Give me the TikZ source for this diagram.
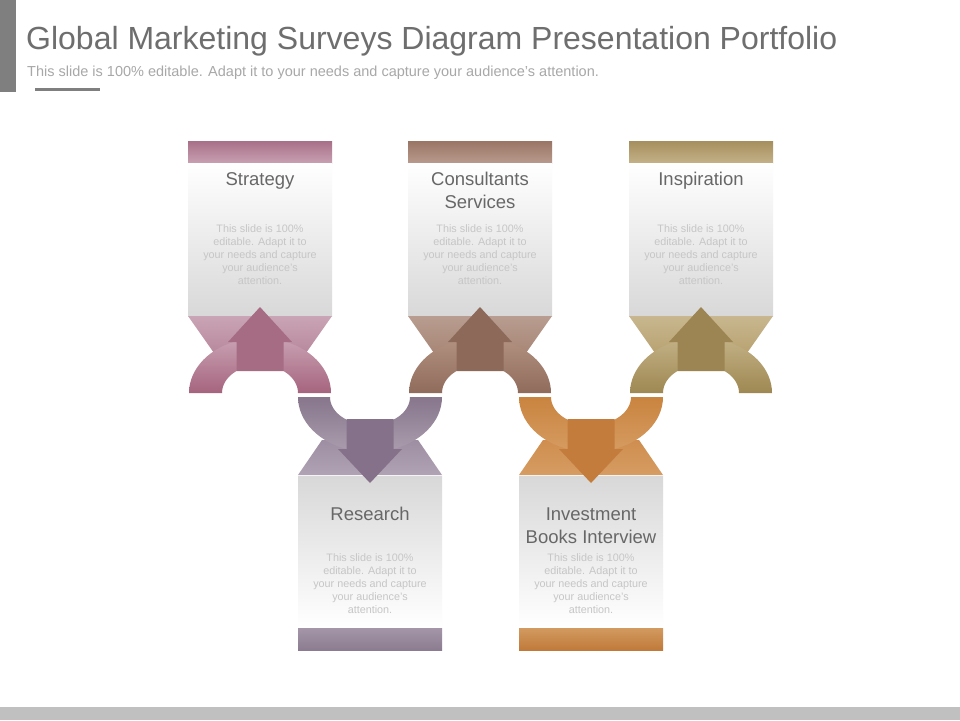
\documentclass[tikz,border=0pt]{standalone}
\usepackage{fontspec}
\setmainfont{Liberation Sans}
\definecolor{panelgrey}{HTML}{D8D8D8}
\definecolor{titlegrey}{HTML}{6E6E6E}
\definecolor{subgrey}{HTML}{A8A8A8}
\definecolor{ptgrey}{HTML}{676767}
\definecolor{bodygrey}{HTML}{C6C6C6}
\definecolor{bargrey}{HTML}{7F7F7F}
\definecolor{bandgrey}{HTML}{C0C0C0}
% Strategy
\definecolor{stA}{HTML}{A87088}\definecolor{stB}{HTML}{C8A0B2}
\definecolor{stT1}{HTML}{C9A5B5}\definecolor{stT2}{HTML}{B8889C}
\definecolor{stR}{HTML}{A66C84}
\definecolor{stC1}{HTML}{C9A2B3}\definecolor{stC2}{HTML}{A5647D}
% Consultants
\definecolor{coA}{HTML}{9A7566}\definecolor{coB}{HTML}{B89A8C}
\definecolor{coT1}{HTML}{B89D90}\definecolor{coT2}{HTML}{A88676}
\definecolor{coR}{HTML}{8C6959}
\definecolor{coC1}{HTML}{B39282}\definecolor{coC2}{HTML}{8F6B5B}
% Inspiration
\definecolor{inA}{HTML}{A68F5E}\definecolor{inB}{HTML}{C4B188}
\definecolor{inT1}{HTML}{C8B78F}\definecolor{inT2}{HTML}{B8A271}
\definecolor{inR}{HTML}{9C8552}
\definecolor{inC1}{HTML}{C3B186}\definecolor{inC2}{HTML}{9E8852}
% Research
\definecolor{reA}{HTML}{A496A8}\definecolor{reB}{HTML}{8C7C91}
\definecolor{reT1}{HTML}{9E8EA3}\definecolor{reT2}{HTML}{B0A3B4}
\definecolor{reR}{HTML}{85728A}
\definecolor{reC1}{HTML}{87768C}\definecolor{reC2}{HTML}{AB9DAE}
% Investment
\definecolor{ivA}{HTML}{D29A60}\definecolor{ivB}{HTML}{C07A3A}
\definecolor{ivT1}{HTML}{CF8E4F}\definecolor{ivT2}{HTML}{D69C62}
\definecolor{ivR}{HTML}{C47C3C}
\definecolor{ivC1}{HTML}{C9843F}\definecolor{ivC2}{HTML}{D69C62}

\tikzset{
  ptitle/.style={align=center, text=ptgrey, inner sep=0pt, font=\fontsize{18.5}{23}\selectfont},
  pbody/.style={align=center, text=bodygrey, inner sep=0pt, font=\fontsize{10.8}{13}\selectfont},
}

\newcommand\upmod[5]{%
  \shade[top color=#3A, bottom color=#3B] ({#2-72},141) rectangle ({#2+72},163);
  \shade[top color=white, bottom color=panelgrey] ({#2-72},163) rectangle ({#2+72},316);
  \shade[top color=#3T1, bottom color=#3T2] ({#2-72},316) -- ({#2+72},316) -- ({#2+46},353) -- ({#2-46},353) -- cycle;
  \shade[top color=#3C1, bottom color=#3C2] plot[domain=180:360,samples=40] ({#2+71*cos(\x)},{393+55*sin(\x)}) -- plot[domain=360:180,samples=40] ({#2+38*cos(\x)},{393+28*sin(\x)}) -- cycle;
  \fill[#3R] ({#2},307) -- ({#2+32},342) -- ({#2+23.5},342) -- ({#2+23.5},371) -- ({#2-23.5},371) -- ({#2-23.5},342) -- ({#2-32},342) -- cycle;
  \node[ptitle] (#1-title) at ({#2},#5) {#4};
  \node[pbody] (#1-text) at ({#2},255) {This slide is 100\%\\editable. Adapt it to\\your needs and capture\\your audience's\\attention.};
}

\newcommand\downmod[5]{%
  \shade[top color=#3T1, bottom color=#3T2] ({#2-48},440) -- ({#2+48},440) -- ({#2+72},475) -- ({#2-72},475) -- cycle;
  \shade[top color=#3C1, bottom color=#3C2] plot[domain=180:0,samples=40] ({#2+72*cos(\x)},{397+55*sin(\x)}) -- plot[domain=0:180,samples=40] ({#2+40*cos(\x)},{397+28*sin(\x)}) -- cycle;
  \shade[top color=panelgrey, bottom color=white] ({#2-72},476.5) rectangle ({#2+72},627);
  \shade[top color=#3A, bottom color=#3B] ({#2-72},628) rectangle ({#2+72},650);
  \fill[#3R] ({#2},483) -- ({#2+32},449) -- ({#2+23.5},449) -- ({#2+23.5},419) -- ({#2-23.5},419) -- ({#2-23.5},449) -- ({#2-32},449) -- cycle;
  \node[ptitle] (#1-title) at ({#2},#5) {#4};
  \node[pbody] (#1-text) at ({#2},584) {This slide is 100\%\\editable. Adapt it to\\your needs and capture\\your audience's\\attention.};
}

\begin{document}
\begin{tikzpicture}[x=1pt,y=-1pt]
  \useasboundingbox (0,0) rectangle (960,720);
  \fill[white] (0,0) rectangle (960,720);
  % header
  \fill[bargrey] (0,0) rectangle (16,92);
  \draw[bargrey, line width=2.5pt] (35,89.5) -- (100,89.5);
  \node[anchor=base west, inner sep=0pt, text=titlegrey, font=\fontsize{32}{36}\selectfont] (title) at (26,49) {Global Marketing Surveys Diagram Presentation Portfolio};
  \node[anchor=base west, inner sep=0pt, text=subgrey, font=\fontsize{14.5}{17}\selectfont] (subtitle) at (27,76) {This slide is 100\% editable. Adapt it to your needs and capture your audience's attention.};
  \fill[bandgrey] (0,707) rectangle (960,720);
  % modules
  \upmod{strategy}{260}{st}{Strategy}{181}
  \upmod{consult}{480}{co}{Consultants\\Services}{190.5}
  \upmod{inspire}{701}{in}{Inspiration}{181}
  \downmod{research}{370}{re}{Research}{514}
  \downmod{invest}{591}{iv}{Investment\\Books Interview}{525.5}
\end{tikzpicture}
\end{document}
